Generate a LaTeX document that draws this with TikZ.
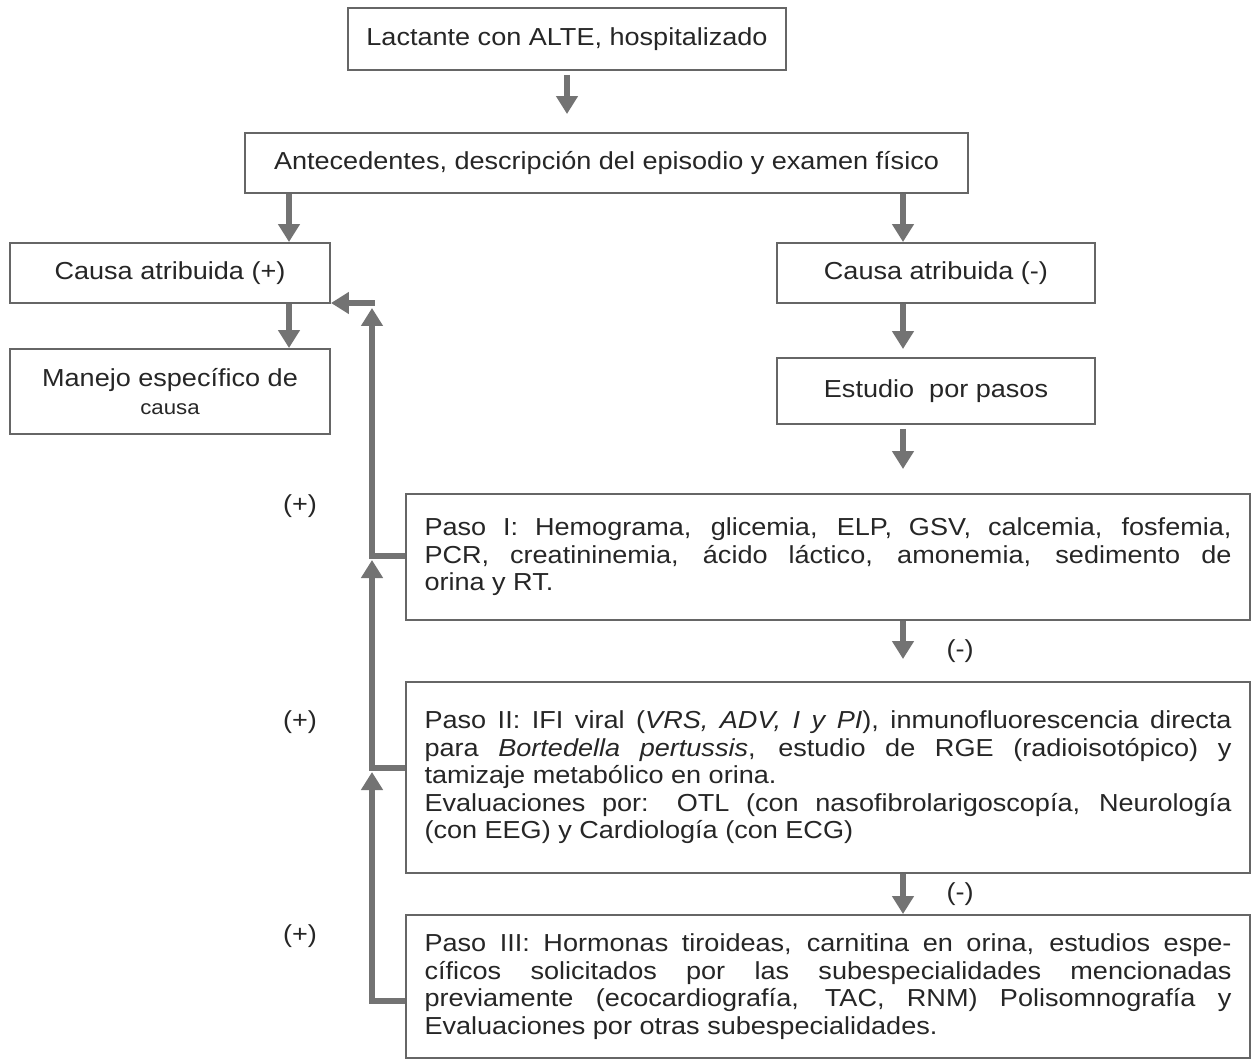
\documentclass[tikz,border=0pt]{standalone}
\usepackage{fontspec}
\setmainfont{Liberation Sans}[FakeStretch=1.1]
\usepackage{tikz}
\usetikzlibrary{
    arrows.meta,
    positioning
}
\hyphenpenalty=10000
\tolerance=9999
\hbadness=10000

\begin{document}
\begin{tikzpicture}[
font=\fontsize{14}{15.65}\selectfont,
text=black!85,
box/.style={
draw=black!60,
line width=1.1pt,
fill=white,
align=center
},
pasobox/.style={
box,
minimum width=16.88cm,
text width=16.14cm,
inner xsep=0.37cm,
align=justify
},
arr/.style={
draw=black!55,
line width=3pt,
-{Triangle[length=3.6mm,width=4.2mm]}
}
]

\useasboundingbox (0,0) rectangle (25.02,-21.22);

\node[box, minimum width=8.76cm, minimum height=1.24cm] (ingreso) at (11.34,-0.78)
{Lactante con ALTE, hospitalizado};

\node[box, minimum width=14.46cm, minimum height=1.2cm] (antecedentes) at (12.13,-3.26)
{Antecedentes, descripción del episodio y examen físico};

\node[box, minimum width=6.4cm, minimum height=1.2cm] (causapos) at (3.4,-5.46)
{Causa atribuida (+)};

\node[box, minimum width=6.36cm, minimum height=1.2cm] (causaneg) at (18.72,-5.46)
{Causa atribuida (-)};

\node[box, minimum width=6.4cm, minimum height=1.7cm] (manejo) at (3.4,-7.83)
{Manejo específico de\\{\fontsize{11.5}{14}\selectfont causa}};

\node[box, minimum width=6.36cm, minimum height=1.32cm] (estudio) at (18.72,-7.82)
{Estudio\ \ por pasos};

\node[pasobox, minimum height=2.52cm] (paso1) at (16.56,-11.14)
{Paso I: Hemograma, glicemia, ELP, GSV, calcemia, fosfemia,\linebreak
PCR, creatininemia, ácido láctico, amonemia, sedimento de\linebreak
orina y RT.};

\node[pasobox, minimum height=3.82cm] (paso2) at (16.56,-15.55)
{Paso II: IFI viral (\textit{VRS, ADV, I y PI}), inmunofluorescencia directa\linebreak
para \textit{Bortedella pertussis}, estudio de RGE (radioisotópico) y\linebreak
tamizaje metabólico en orina.\\
Evaluaciones por: OTL (con nasofibrolarigoscopía, Neurología\linebreak
(con EEG) y Cardiología (con ECG)};

\node[pasobox, minimum height=2.86cm] (paso3) at (16.56,-19.73)
{Paso III: Hormonas tiroideas, carnitina en orina, estudios espe-\linebreak
cíficos solicitados por las subespecialidades mencionadas\linebreak
previamente (ecocardiografía, TAC, RNM) Polisomnografía y\linebreak
Evaluaciones por otras subespecialidades.};

\node (mas1) at (6.0,-10.12) {(+)};
\node (mas2) at (6.0,-14.44) {(+)};
\node (mas3) at (6.0,-18.72) {(+)};

\coordinate (xl) at (5.78,0);
\coordinate (xr) at (18.06,0);
\coordinate (c0) at (7.44,-6.06);
\coordinate (j1) at (7.44,-11.12);
\coordinate (j2) at (7.44,-15.36);
\coordinate (j3) at (7.44,-20.02);

\draw[arr, shorten <=0.08cm, shorten >=0.36cm]
(ingreso.south) -- (ingreso.south |- antecedentes.north);

\draw[arr] (antecedentes.south -| xl) -- (causapos.north -| xl);
\draw[arr] (antecedentes.south -| xr) -- (causaneg.north -| xr);
\draw[arr] (causapos.south -| xl) -- (manejo.north -| xl);
\draw[arr, shorten >=0.16cm] (causaneg.south -| xr) -- (estudio.north -| xr);
\draw[arr, shorten <=0.08cm, shorten >=0.48cm] (estudio.south -| xr) -- (paso1.north -| xr);

\draw[arr, shorten >=0.44cm]
(paso1.south -| xr) -- node[right=0.7cm]{(-)} (paso2.north -| xr);
\draw[arr]
(paso2.south -| xr) -- node[right=0.7cm]{(-)} (paso3.north -| xr);

\draw[arr, shorten >=0.08cm] (paso3.west |- j3) -- (j3) -- (j2);
\draw[arr, shorten >=0.08cm] (paso2.west |- j2) -- (j2) -- (j1);
\draw[arr, shorten >=0.1cm] (paso1.west |- j1) -- (j1) -- (c0);
\draw[arr] ([xshift=1.5pt]c0) -- (c0 -| causapos.east);

\end{tikzpicture}
\end{document}
